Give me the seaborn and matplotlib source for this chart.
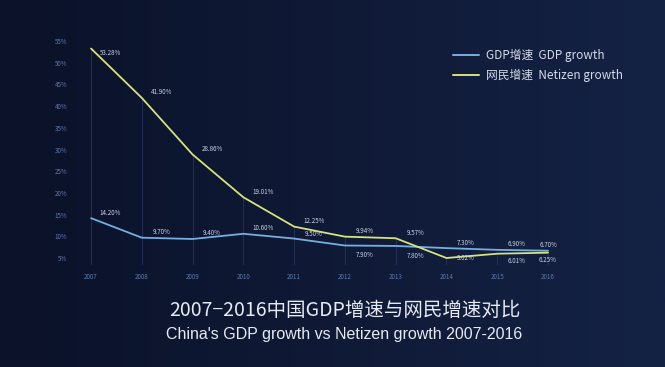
import numpy as np
import pandas as pd
import matplotlib
matplotlib.use("Agg")
import matplotlib.pyplot as plt
import seaborn as sns

years = [2007, 2008, 2009, 2010, 2011, 2012, 2013, 2014, 2015, 2016]
gdp_growth = [14.20, 9.70, 9.40, 10.60, 9.50, 7.90, 7.80, 7.30, 6.90, 6.70]
netizen_growth = [53.28, 41.90, 28.86, 19.01, 12.25, 9.94, 9.57, 5.02, 6.01, 6.25]
y_ticks = [5, 10, 15, 20, 25, 30, 35, 40, 45, 50, 55]
series_names = ["GDP增速  GDP growth", "网民增速  Netizen growth"]
title_cn = "2007−2016中国GDP增速与网民增速对比"
title_en = "China's GDP growth vs Netizen growth 2007-2016"

df = pd.concat([
    pd.DataFrame({"year": years, "value": gdp_growth, "series": series_names[0]}),
    pd.DataFrame({"year": years, "value": netizen_growth, "series": series_names[1]}),
])

sns.set_theme(style="dark")
plt.rcParams["font.family"] = ["Noto Sans CJK SC", "DejaVu Sans"]

bg = "#0f1734"
fig = plt.figure(figsize=(6.65, 3.67), dpi=100)
fig.patch.set_facecolor(bg)

# subtle background gradient
bg_ax = fig.add_axes([0, 0, 1, 1], zorder=-1)
grad = np.linspace(0, 1, 256).reshape(1, -1)
bg_ax.imshow(grad, aspect="auto", extent=[0, 1, 0, 1],
             cmap=matplotlib.colors.LinearSegmentedColormap.from_list("bg", ["#0b1229", "#142244"]))
bg_ax.axis("off")

ax = fig.add_axes([0.114, 0.279, 0.733, 0.621])
ax.set_facecolor("none")

colors = {series_names[0]: "#76aee0", series_names[1]: "#d6e27c"}
sns.lineplot(data=df, x="year", y="value", hue="series", palette=colors,
             linewidth=1.3, ax=ax, legend=False)

# faint drop lines
ax.vlines(years, 3.5, netizen_growth, color="#27345a", linewidth=0.6, zorder=0)

ax.set_xlim(2006.7, 2016.3)
ax.set_ylim(3.5, 56)
ax.set_xticks(years)
ax.set_xticklabels([str(y) for y in years], fontsize=4.5, color="#5a79ad")
ax.set_yticks(y_ticks)
ax.set_yticklabels([f"{t}%" for t in y_ticks], fontsize=4.5, color="#5a79ad")
ax.tick_params(axis="both", length=0, pad=6)
ax.grid(False)
for s in ax.spines.values():
    s.set_visible(False)
ax.set_xlabel("")
ax.set_ylabel("")

# data labels
label_kw = dict(textcoords="offset points", ha="center", va="center",
                fontsize=4.5, color="#c9d2e6")
for x, v in zip(years, gdp_growth):
    dx = 0 if x == 2016 else 14
    dy = -7 if x in (2012, 2013) else 4
    if x == 2011:
        dy = 3
    ax.annotate(f"{v:.2f}%", (x, v), xytext=(dx, dy), **label_kw)
for x, v in zip(years, netizen_growth):
    dx = 0 if x == 2016 else 14
    dy = 4
    if x == 2007:
        dy = -3
    elif x == 2014:
        dy = 0
    elif x in (2015, 2016):
        dy = -5
    ax.annotate(f"{v:.2f}%", (x, v), xytext=(dx, dy), **label_kw)

# legend
handles = [plt.Line2D([0], [0], color=colors[n], linewidth=1.4) for n in series_names]
leg = fig.legend(handles, series_names, loc="upper left", bbox_to_anchor=(0.665, 0.895),
                 frameon=False, fontsize=8.5, handlelength=2.2, labelspacing=0.55,
                 handletextpad=0.6)
for t in leg.get_texts():
    t.set_color("#d2d9ea")

fig.text(0.518, 0.155, title_cn, ha="center", va="center", fontsize=14, color="#e6eaf3")
fig.text(0.518, 0.088, title_en, ha="center", va="center", fontsize=11.5, color="#e6eaf3",
         family=["Liberation Sans", "DejaVu Sans"])

fig.savefig("out.png", dpi=100, facecolor=fig.get_facecolor())
